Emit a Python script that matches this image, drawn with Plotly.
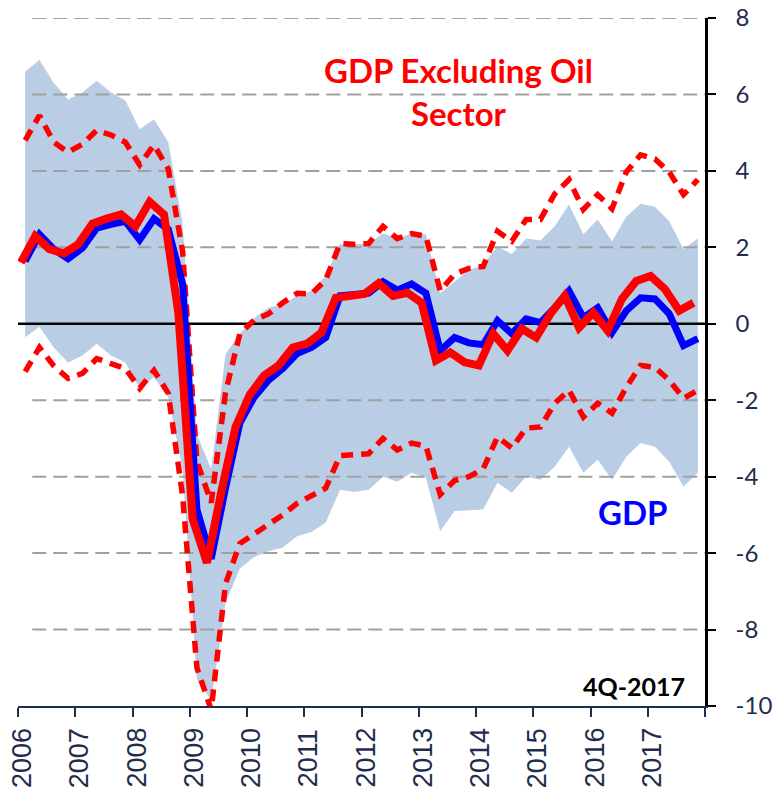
import plotly.graph_objects as go

# Quarterly observations 2006Q1 .. 2017Q4
years = [2006 + i // 4 for i in range(48)]
quarters = [i % 4 + 1 for i in range(48)]

gdp = [1.64, 2.34, 1.95, 1.70, 1.98, 2.50, 2.60, 2.68, 2.20, 2.75, 2.47, 1.04,
       -4.86, -6.15, -4.30, -2.60, -1.92, -1.48, -1.17, -0.78, -0.62, -0.36, 0.73, 0.78,
       0.80, 1.10, 0.88, 1.04, 0.80, -0.70, -0.36, -0.50, -0.55, 0.08, -0.26, 0.13,
       0.03, 0.42, 0.86, 0.16, 0.42, -0.23, 0.34, 0.68, 0.65, 0.26, -0.57, -0.39]

gdp_nonoil = [1.60, 2.29, 1.95, 1.84, 2.08, 2.62, 2.75, 2.86, 2.55, 3.19, 2.86, 0.30,
              -5.10, -6.25, -4.40, -2.70, -1.85, -1.35, -1.09, -0.62, -0.52, -0.23, 0.68, 0.73,
              0.78, 1.06, 0.73, 0.81, 0.55, -0.96, -0.75, -1.01, -1.09, -0.26, -0.70, -0.13,
              -0.36, 0.26, 0.73, -0.10, 0.29, -0.18, 0.65, 1.12, 1.25, 0.91, 0.34, 0.55]

nonoil_upper = [4.80, 5.45, 4.75, 4.49, 4.70, 5.06, 4.94, 4.75, 4.16, 4.68, 4.05, 1.90,
                -3.60, -4.68, -1.80, -0.26, 0.10, 0.26, 0.55, 0.80, 0.78, 1.15, 2.10, 2.08,
                2.10, 2.55, 2.23, 2.36, 2.29, 0.86, 1.30, 1.45, 1.50, 2.42, 2.16, 2.73,
                2.73, 3.40, 3.77, 2.99, 3.38, 3.01, 3.97, 4.42, 4.31, 3.97, 3.38, 3.77]

nonoil_lower = [-1.25, -0.62, -1.10, -1.43, -1.30, -0.91, -1.04, -1.17, -1.69, -1.22, -1.82, -4.50,
                -9.00, -10.10, -6.80, -5.75, -5.50, -5.25, -5.00, -4.70, -4.50, -4.30, -3.45, -3.43,
                -3.40, -3.00, -3.30, -3.12, -3.20, -4.47, -4.10, -4.00, -3.80, -2.96, -3.25, -2.73,
                -2.70, -2.08, -1.74, -2.44, -2.08, -2.34, -1.66, -1.09, -1.14, -1.48, -1.95, -1.74]

band_upper = [6.60, 6.90, 6.30, 5.87, 6.05, 6.36, 6.05, 5.84, 5.09, 5.35, 4.75, 2.62,
              -2.90, -3.80, -0.80, -0.25, 0.15, 0.42, 0.52, 0.73, 0.86, 1.25, 2.08, 2.08,
              2.10, 2.36, 2.23, 2.36, 2.34, 0.80, 1.10, 1.40, 1.55, 2.03, 1.82, 2.23,
              2.18, 2.55, 3.12, 2.34, 2.73, 2.16, 2.80, 3.14, 3.06, 2.68, 1.95, 2.23]

band_lower = [-0.35, -0.08, -0.62, -1.01, -0.83, -0.52, -0.83, -1.01, -1.69, -1.40, -1.92, -3.80,
              -9.30, -9.85, -7.30, -6.40, -6.10, -5.95, -5.85, -5.56, -5.45, -5.20, -4.34, -4.40,
              -4.34, -4.00, -4.13, -3.90, -4.03, -5.43, -4.90, -4.88, -4.86, -4.16, -4.42, -4.00,
              -4.08, -3.74, -3.22, -3.90, -3.56, -4.08, -3.48, -3.12, -3.22, -3.61, -4.26, -3.90]

year_ticks = list(range(2006, 2019))
year_labels = [str(y) for y in range(2006, 2018)]
y_ticks = [-10, -8, -6, -4, -2, 0, 2, 4, 6, 8]
y_labels = ["-10", "-8", "-6", "-4", "-2", "0", "2", "4", "6", "8"]

# positions: mid-quarter for band/GDP/dashed; red solid drawn slightly earlier in the quarter
x_mid = [y + (q - 0.5) / 4 for y, q in zip(years, quarters)]
x_red = [y + (q - 0.8) / 4 for y, q in zip(years, quarters)]

NAVY = "#1F2D4D"
fig = go.Figure()

# shaded band
fig.add_trace(go.Scatter(x=x_mid, y=band_lower, mode="lines", line=dict(width=0, color="#B9CDE5"),
                         showlegend=False, hoverinfo="skip"))
fig.add_trace(go.Scatter(x=x_mid, y=band_upper, mode="lines", line=dict(width=0, color="#B9CDE5"),
                         fill="tonexty", fillcolor="#B9CDE5", showlegend=False, hoverinfo="skip"))

# dashed gridlines (above band, below series)
for v in y_ticks:
    if v in (0, -10):
        continue
    fig.add_trace(go.Scatter(x=[2006.25, 2018], y=[v, v], mode="lines",
                             line=dict(color="#A0A0A0", width=2, dash="14px,7px"),
                             showlegend=False, hoverinfo="skip"))
# zero line
fig.add_trace(go.Scatter(x=[2006, 2018], y=[0, 0], mode="lines",
                         line=dict(color="black", width=2.5), showlegend=False, hoverinfo="skip"))

# series
fig.add_trace(go.Scatter(x=x_mid, y=nonoil_upper, mode="lines",
                         line=dict(color="#FF0000", width=5.5, dash="12px,8px"), showlegend=False))
fig.add_trace(go.Scatter(x=x_mid, y=nonoil_lower, mode="lines",
                         line=dict(color="#FF0000", width=5.5, dash="12px,8px"), showlegend=False))
fig.add_trace(go.Scatter(x=x_mid, y=gdp, mode="lines",
                         line=dict(color="#0000FF", width=7), showlegend=False))
fig.add_trace(go.Scatter(x=x_red, y=gdp_nonoil, mode="lines",
                         line=dict(color="#FF0000", width=8), showlegend=False))

fig.add_annotation(x=2013.69, y=6.09, xref="x", yref="y", showarrow=False,
                   text="GDP Excluding Oil<br>Sector",
                   font=dict(family="Lato", size=33, color="#FF0000", weight="bold"))
fig.add_annotation(x=2016.74, y=-4.93, xref="x", yref="y", showarrow=False,
                   text="GDP", font=dict(family="Lato", size=33, color="#0000FF", weight="bold"))
fig.add_annotation(x=2017.69, y=-9.48, xref="x", yref="y", showarrow=False, xanchor="right",
                   text="4Q-2017", font=dict(family="Lato", size=25, color="black", weight="bold"))

# rotated year labels
for yr, lab in zip(year_ticks, year_labels):
    fig.add_annotation(x=yr, y=0, xref="x", yref="paper", showarrow=False, textangle=-90,
                       xanchor="center", yanchor="middle", xshift=4, yshift=-52,
                       text=lab, font=dict(family="Liberation Sans", size=27, color=NAVY))

fig.update_layout(
    width=776, height=795,
    margin=dict(l=18, r=71, t=18, b=89, autoexpand=False),
    paper_bgcolor="white", plot_bgcolor="white",
    showlegend=False,
    xaxis=dict(range=[2006, 2018], tickmode="array", tickvals=year_ticks, showticklabels=False,
               ticks="outside", ticklen=9, tickwidth=2, tickcolor=NAVY,
               showline=True, linecolor=NAVY, linewidth=2, showgrid=False, zeroline=False,
               automargin=False),
    yaxis=dict(range=[-10, 8], side="right", tickmode="array", tickvals=y_ticks, ticktext=y_labels,
               ticks="outside", ticklen=8, tickwidth=2, tickcolor="black",
               showline=True, linecolor="black", linewidth=2.5, showgrid=False, zeroline=False,
               ticklabelstandoff=15, automargin=False, ticklabeloverflow="allow",
               tickfont=dict(family="Lato", size=24, color=NAVY)),
)

# remove the browser's default 8px page margin so the figure fills the window
fig.write_html("out.html", config={"displayModeBar": False},
               post_script="document.body.style.margin='0px';")
